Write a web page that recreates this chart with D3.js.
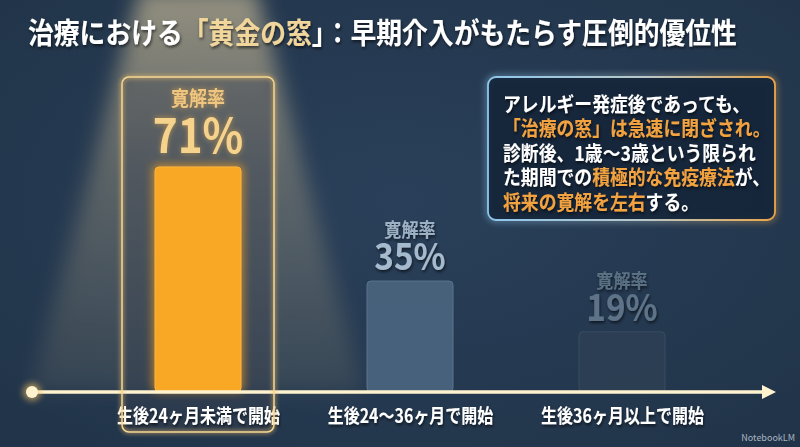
<!DOCTYPE html>
<html><head><meta charset="utf-8">
<script src="https://cdn.jsdelivr.net/npm/d3@7"></script>
<style>html,body{margin:0;padding:0;background:#24384e;overflow:hidden}svg{display:block}</style>
</head><body><svg id="c" width="800" height="447"></svg>
<script>
// ---- data ----
const categories = ["生後24ヶ月未満で開始", "生後24〜36ヶ月で開始", "生後36ヶ月以上で開始"];
const values = [71, 35, 19];
const metricLabel = "寛解率";
const titleParts = [["治療における", false], ["「黄金の窓", true], ["」：早期介入がもたらす圧倒的優位性", false]];
const noteLines = [
  [["アレルギー発症後であっても、", false]],
  [["「治療の窓」は急速に閉ざされ。", true]],
  [["診断後、1歳〜3歳という限られ", false]],
  [["た期間での", false], ["積極的な免疫療法", true], ["が、", false]],
  [["将来の寛解を左右", true], ["する。", false]]
];
const highlightIndex = 0;
const watermark = "NotebookLM";

// ---- setup ----
const FONT = "'Noto Sans CJK JP','Noto Sans',sans-serif";
const svg = d3.select("#c");
const W = 800, H = 447;
const axisY = 392;
const x = d3.scalePoint().domain(categories).range([198, 622]);
const y = d3.scaleLinear().domain([0, 100]).range([axisY, 75]);
const barW = 86;

const defs = svg.append("defs");
const bg = defs.append("radialGradient").attr("id", "bg").attr("cx", "50%").attr("cy", "45%").attr("r", "75%");
bg.append("stop").attr("offset", "0%").attr("stop-color", "#2a405a");
bg.append("stop").attr("offset", "100%").attr("stop-color", "#203348");

const cone = defs.append("linearGradient").attr("id", "cone").attr("x1", 0).attr("y1", 0).attr("x2", 0).attr("y2", 1);
cone.append("stop").attr("offset", "0%").attr("stop-color", "#f3dcaa").attr("stop-opacity", 0.55);
cone.append("stop").attr("offset", "45%").attr("stop-color", "#e8cf9c").attr("stop-opacity", 0.28);
cone.append("stop").attr("offset", "100%").attr("stop-color", "#d8c08e").attr("stop-opacity", 0.10);

const blur = (id, sd) => { defs.append("filter").attr("id", id).attr("x", "-50%").attr("y", "-50%").attr("width", "200%").attr("height", "200%")
  .append("feGaussianBlur").attr("stdDeviation", sd); };
blur("b10", 10); blur("b4", 4); blur("b3", 3); blur("b2", 2);

const shadow = defs.append("filter").attr("id", "sh").attr("x", "-10%").attr("y", "-30%").attr("width", "120%").attr("height", "160%");
shadow.append("feDropShadow").attr("dx", 1).attr("dy", 2).attr("stdDeviation", 1.5).attr("flood-color", "#000").attr("flood-opacity", 0.6);
const goldGlow = defs.append("filter").attr("id", "gg").attr("x", "-30%").attr("y", "-30%").attr("width", "160%").attr("height", "160%");
goldGlow.append("feDropShadow").attr("dx", 0).attr("dy", 0).attr("stdDeviation", 3).attr("flood-color", "#f5b040").attr("flood-opacity", 0.6);

const panelGrad = defs.append("linearGradient").attr("id", "pg").attr("x1", 0).attr("y1", 0).attr("x2", 1).attr("y2", 0);
panelGrad.append("stop").attr("offset", "0%").attr("stop-color", "#8ec6ec");
panelGrad.append("stop").attr("offset", "55%").attr("stop-color", "#b9c8c8");
panelGrad.append("stop").attr("offset", "100%").attr("stop-color", "#eaa54a");

// background
svg.append("rect").attr("width", W).attr("height", H).attr("fill", "url(#bg)");

// spotlight cone over highlighted category
const hc = x(categories[highlightIndex]);
svg.append("path")
  .attr("d", `M${hc - 58},-10 L${hc + 58},-10 L${hc + 165},${axisY} L${hc - 168},${axisY} Z`)
  .attr("fill", "url(#cone)").attr("filter", "url(#b10)");

// highlight box fill
const boxX = hc - 76, boxW = 152, boxTop = 77, boxBot = 432;
svg.append("rect").attr("x", boxX).attr("y", boxTop).attr("width", boxW).attr("height", boxBot - boxTop)
  .attr("rx", 7).attr("fill", "#3b4350").attr("opacity", 0.35);

// bars
const barFill = ["#f9a826", "#4b657f", "#2c3f53"];
const barStroke = ["#fbb640", "#5a7590", "#394d61"];
const labCol = ["#eec680", "#9db1c5", "#5a6f83"];
const numCol = ["#f6d38c", "#a6bacd", "#5e7388"];
const styleIdx = i => i === highlightIndex ? 0 : (i === 1 ? 1 : 2);

const bars = svg.append("g");
bars.selectAll("rect.glow").data(values.filter((d, i) => i === highlightIndex)).join("rect")
  .attr("x", x(categories[highlightIndex]) - barW / 2 - 3)
  .attr("y", d => y(d) - 3).attr("width", barW + 6).attr("height", d => axisY - y(d) + 3)
  .attr("rx", 6).attr("fill", "#f5a020").attr("opacity", 0.6).attr("filter", "url(#b4)");
bars.selectAll("rect.bar").data(values).join("rect").attr("class", "bar")
  .attr("x", (d, i) => x(categories[i]) - barW / 2)
  .attr("y", d => y(d)).attr("width", barW).attr("height", d => axisY - y(d))
  .attr("rx", 4)
  .attr("fill", (d, i) => barFill[styleIdx(i)])
  .attr("fill-opacity", (d, i) => styleIdx(i) === 0 ? 1 : 0.9)
  .attr("stroke", (d, i) => barStroke[styleIdx(i)]).attr("stroke-width", 1);

// helper: condensed multi-line text in one element
// lines: [{segs:[[str,hl],...], size, dy, colors:[normal,hl]}]
function ctext(g, lines, tx, ty, sx, anchor, filter) {
  const t = g.append("text")
    .attr("transform", `translate(${tx},${ty}) scale(${sx},1)`)
    .attr("x", 0).attr("y", 0)
    .attr("font-family", FONT).attr("font-weight", 700)
    .attr("text-anchor", anchor);
  if (filter) t.attr("filter", filter);
  lines.forEach((ln, li) => {
    const l = t.append("tspan").attr("x", 0).attr("dy", li === 0 ? 0 : ln.dy).attr("font-size", ln.size);
    ln.segs.forEach(([s, hl]) => l.append("tspan").text(s).attr("fill", hl ? ln.colors[1] : ln.colors[0]));
  });
  return t;
}

// value labels
const labG = svg.append("g");
values.forEach((v, i) => {
  const s = styleIdx(i), cx = x(categories[i]), top = y(v);
  const hl = s === 0;
  ctext(labG, [
    { segs: [[metricLabel, false]], size: hl ? 20 : 19, colors: [labCol[s]] },
    { segs: [[v + "%", false]], size: hl ? 47 : 37, dy: hl ? 47 : 33, colors: [numCol[s]] }
  ], cx, hl ? top - 61 : top - 44, 0.9, "middle", hl ? "url(#gg)" : "url(#sh)");
});

// axis (timeline)
const axG = svg.append("g");
axG.append("line").attr("x1", 32).attr("x2", 770).attr("y1", axisY).attr("y2", axisY)
  .attr("stroke", "#f3c060").attr("stroke-width", 8).attr("opacity", 0.55).attr("filter", "url(#b3)");
axG.append("line").attr("x1", 32).attr("x2", 766).attr("y1", axisY).attr("y2", axisY)
  .attr("stroke", "#fff3cf").attr("stroke-width", 3.5);
axG.append("path").attr("d", `M762,${axisY - 7} L776,${axisY} L762,${axisY + 7} Z`).attr("fill", "#fff3cf");
axG.append("circle").attr("cx", 32).attr("cy", axisY).attr("r", 9).attr("fill", "#f3c060").attr("opacity", 0.6).attr("filter", "url(#b3)");
axG.append("circle").attr("cx", 32).attr("cy", axisY).attr("r", 6).attr("fill", "#fff3cf");

// category labels via axis
const xAxis = d3.axisBottom(x).tickSize(0).tickPadding(0);
const xa = svg.append("g").attr("transform", `translate(0,${axisY})`).call(xAxis);
xa.select(".domain").remove();
xa.selectAll(".tick text").remove();
xa.selectAll(".tick").each(function (d) {
  ctext(d3.select(this), [{ segs: [[d, false]], size: 19.5, colors: ["#ffffff"] }], 0, 31, 0.82, "middle", "url(#sh)");
});

// highlight box outline
svg.append("rect").attr("x", boxX).attr("y", boxTop).attr("width", boxW).attr("height", boxBot - boxTop)
  .attr("rx", 7).attr("fill", "none").attr("stroke", "#f2c16a").attr("stroke-width", 4).attr("opacity", 0.5).attr("filter", "url(#b2)");
svg.append("rect").attr("x", boxX).attr("y", boxTop).attr("width", boxW).attr("height", boxBot - boxTop)
  .attr("rx", 7).attr("fill", "none").attr("stroke", "#f6d894").attr("stroke-width", 1.5);

// note panel
const pX = 488, pY = 77, pW = 287, pH = 143;
svg.append("rect").attr("x", pX).attr("y", pY).attr("width", pW).attr("height", pH).attr("rx", 8)
  .attr("fill", "none").attr("stroke", "url(#pg)").attr("stroke-width", 5).attr("opacity", 0.45).attr("filter", "url(#b3)");
svg.append("rect").attr("x", pX).attr("y", pY).attr("width", pW).attr("height", pH).attr("rx", 8)
  .attr("fill", "#15253a").attr("fill-opacity", 0.92).attr("stroke", "url(#pg)").attr("stroke-width", 1.8);
ctext(svg.append("g"),
  noteLines.map(segs => ({ segs, size: 20.5, dy: 24.5, colors: ["#ffffff", "#f3a23f"] })),
  503, 112, 0.87, "start", "url(#sh)");

// title
ctext(svg, [{ segs: titleParts, size: 29, colors: ["#ffffff", "#f1d69c"] }], 28, 44, 0.89, "start", "url(#sh)");

// watermark
svg.append("text").attr("x", 795).attr("y", 441).attr("text-anchor", "end")
  .attr("font-family", FONT).attr("font-size", 9).attr("fill", "#aab4c0").text(watermark);
</script></body></html>
